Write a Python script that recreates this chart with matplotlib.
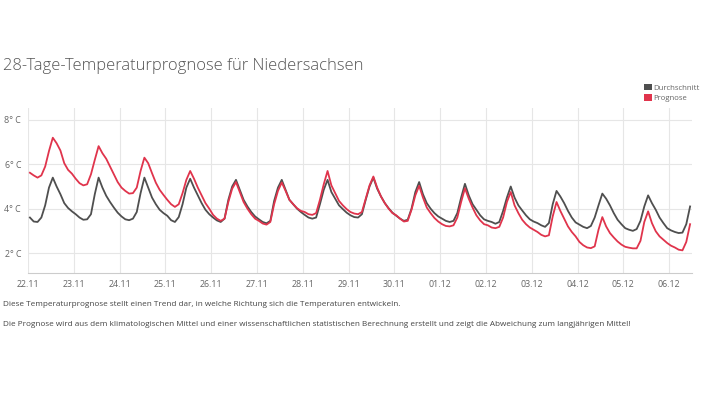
import numpy as np
import matplotlib
matplotlib.use('Agg')
import matplotlib.pyplot as plt
from matplotlib.patches import Patch

plt.rcParams['font.family'] = ['Open Sans', 'DejaVu Sans']

titel = "28-Tage-Temperaturprognose für Niedersachsen"
hinweis_1 = "Diese Temperaturprognose stellt einen Trend dar, in welche Richtung sich die Temperaturen entwickeln."
hinweis_2 = ("Die Prognose wird aus dem klimatologischen Mittel und einer wissenschaftlichen statistischen "
             "Berechnung erstellt und zeigt die Abweichung zum langjährigen Mittel!")

tage = ["22.11", "23.11", "24.11", "25.11", "26.11", "27.11", "28.11", "29.11",
        "30.11", "01.12", "02.12", "03.12", "04.12", "05.12", "06.12"]
stunden = [1, 3, 5, 7, 9, 11, 13, 15, 17, 19, 21, 23]
y_ticks = [2, 4, 6, 8]

# 2-hourly values, one row per day (last day ends at noon)
durchschnitt = [
    3.60, 3.42, 3.40, 3.60, 4.15, 4.95, 5.40, 5.00, 4.65, 4.25, 4.03, 3.88,  # 22.11
    3.75, 3.60, 3.50, 3.52, 3.75, 4.65, 5.40, 4.95, 4.58, 4.30, 4.05, 3.82,  # 23.11
    3.65, 3.52, 3.48, 3.55, 3.85, 4.70, 5.40, 4.95, 4.50, 4.20, 3.95, 3.80,  # 24.11
    3.68, 3.48, 3.40, 3.62, 4.20, 4.95, 5.35, 4.95, 4.60, 4.25, 3.95, 3.75,  # 25.11
    3.60, 3.47, 3.40, 3.55, 4.40, 5.00, 5.30, 4.85, 4.40, 4.10, 3.85, 3.65,  # 26.11
    3.52, 3.40, 3.34, 3.45, 4.35, 4.95, 5.30, 4.85, 4.40, 4.20, 4.00, 3.85,  # 27.11
    3.72, 3.60, 3.55, 3.60, 4.20, 4.85, 5.30, 4.75, 4.45, 4.15, 3.98, 3.82,  # 28.11
    3.70, 3.62, 3.60, 3.75, 4.40, 5.00, 5.40, 4.90, 4.55, 4.25, 4.02, 3.82,  # 29.11
    3.68, 3.55, 3.45, 3.50, 4.00, 4.75, 5.20, 4.65, 4.25, 4.00, 3.80, 3.65,  # 30.11
    3.55, 3.45, 3.40, 3.45, 3.80, 4.50, 5.12, 4.60, 4.20, 3.95, 3.70, 3.52,  # 01.12
    3.45, 3.40, 3.32, 3.40, 3.90, 4.50, 5.00, 4.50, 4.15, 3.92, 3.70, 3.52,  # 02.12
    3.42, 3.35, 3.25, 3.18, 3.35, 4.20, 4.80, 4.55, 4.25, 3.90, 3.60, 3.38,  # 03.12
    3.28, 3.18, 3.12, 3.22, 3.60, 4.15, 4.68, 4.45, 4.15, 3.80, 3.50, 3.30,  # 04.12
    3.12, 3.05, 3.00, 3.08, 3.45, 4.10, 4.60, 4.25, 3.95, 3.60, 3.35, 3.12,  # 05.12
    3.02, 2.95, 2.90, 2.92, 3.30, 4.10,                                      # 06.12
]
prognose = [
    5.62, 5.50, 5.40, 5.50, 5.90, 6.60, 7.20, 6.95, 6.62, 6.05, 5.75, 5.58,  # 22.11
    5.35, 5.15, 5.05, 5.10, 5.55, 6.20, 6.82, 6.50, 6.25, 5.90, 5.55, 5.20,  # 23.11
    4.95, 4.80, 4.68, 4.70, 4.95, 5.70, 6.30, 6.05, 5.60, 5.17, 4.85, 4.62,  # 24.11
    4.40, 4.20, 4.08, 4.20, 4.70, 5.30, 5.70, 5.35, 4.95, 4.60, 4.25, 4.00,  # 25.11
    3.72, 3.55, 3.45, 3.55, 4.30, 4.90, 5.20, 4.75, 4.30, 4.00, 3.75, 3.55,  # 26.11
    3.45, 3.33, 3.28, 3.40, 4.20, 4.80, 5.18, 4.80, 4.40, 4.20, 4.02, 3.90,  # 27.11
    3.85, 3.75, 3.72, 3.80, 4.40, 5.10, 5.70, 5.05, 4.70, 4.35, 4.15, 3.98,  # 28.11
    3.85, 3.78, 3.75, 3.85, 4.45, 5.05, 5.45, 4.95, 4.55, 4.25, 4.00, 3.80,  # 29.11
    3.70, 3.55, 3.42, 3.45, 3.95, 4.60, 5.03, 4.50, 4.05, 3.80, 3.58, 3.42,  # 30.11
    3.30, 3.22, 3.20, 3.25, 3.60, 4.30, 4.92, 4.45, 4.05, 3.70, 3.47, 3.30,  # 01.12
    3.25, 3.15, 3.12, 3.18, 3.60, 4.30, 4.75, 4.15, 3.80, 3.50, 3.30, 3.15,  # 02.12
    3.05, 2.95, 2.82, 2.75, 2.80, 3.65, 4.30, 3.90, 3.55, 3.20, 2.95, 2.75,  # 03.12
    2.50, 2.35, 2.25, 2.22, 2.30, 3.05, 3.62, 3.20, 2.90, 2.70, 2.52, 2.38,  # 04.12
    2.28, 2.24, 2.21, 2.21, 2.55, 3.40, 3.88, 3.35, 2.98, 2.75, 2.60, 2.45,  # 05.12
    2.33, 2.25, 2.15, 2.12, 2.50, 3.30,                                      # 06.12
]

GRAU, ROT = '#4f4f4f', '#e0344c'

t = np.array([d + h / 24 for d in range(len(tage)) for h in stunden])[:len(durchschnitt)]

fig = plt.figure(figsize=(7.03, 3.96), dpi=100, facecolor='white')
ax = fig.add_axes([28 / 703, 1 - 273.3 / 396, 664 / 703, 165.3 / 396])

ax.plot(t, durchschnitt, color=GRAU, lw=1.3, solid_joinstyle='round', zorder=3)
ax.plot(t, prognose, color=ROT, lw=1.3, solid_joinstyle='round', zorder=3)

ax.set_xlim(0, 14.5)
ax.set_ylim(1.085, 8.54)
ax.set_xticks(range(len(tage)))
ax.set_xticklabels(tage)
ax.set_yticks(y_ticks)
ax.set_yticklabels([f"{v}° C" for v in y_ticks])
ax.tick_params(length=0, labelsize=6.4, labelcolor='#666666')
ax.tick_params(axis='x', pad=5)
ax.tick_params(axis='y', pad=5)
ax.grid(True, color='#e6e6e6', lw=0.8)
ax.set_axisbelow(True)
for s in ('top', 'right', 'left'):
    ax.spines[s].set_visible(False)
ax.spines['bottom'].set_color('#cccccc')
ax.spines['bottom'].set_linewidth(0.8)

fig.text(3 / 703, 1 - 66 / 396, titel, fontsize=11.9, color='#555555', va='center',
         fontweight='light')

handles = [Patch(facecolor=GRAU, edgecolor='none'), Patch(facecolor=ROT, edgecolor='none')]
fig.legend(handles, ["Durchschnitt", "Prognose"], loc='upper left',
           bbox_to_anchor=(644 / 703, 1 - 83.5 / 396), frameon=False, fontsize=5.6,
           labelcolor='#666666', handlelength=1.0, handleheight=1.0, handletextpad=0.2,
           labelspacing=0.3, borderpad=0, borderaxespad=0)

fig.text(3 / 703, 1 - 305 / 396, hinweis_1, fontsize=5.9, color='#444444', va='center')
fig.text(3 / 703, 1 - 324 / 396, hinweis_2, fontsize=5.9, color='#444444', va='center')

fig.savefig('out.png', dpi=100, facecolor='white')
